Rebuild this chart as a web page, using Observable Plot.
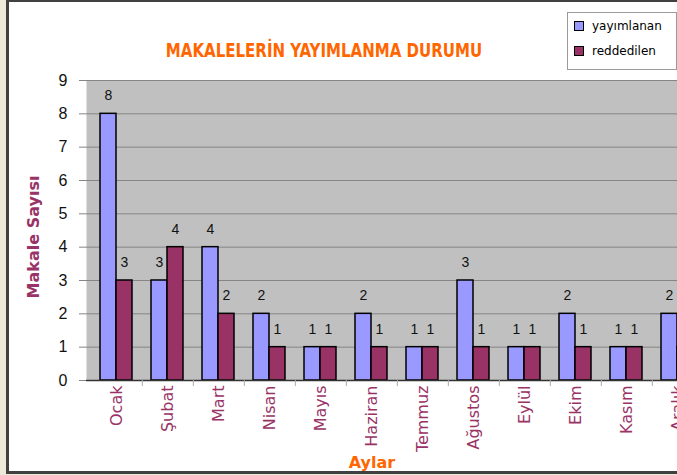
<!DOCTYPE html>
<html>
<head>
<meta charset="utf-8">
<script src="https://cdn.jsdelivr.net/npm/d3@7"></script>
<script src="https://cdn.jsdelivr.net/npm/@observablehq/plot@0.6"></script>
<style>
  html, body { margin: 0; padding: 0; }
  body { width: 677px; height: 475px; overflow: hidden; position: relative; background: #ECE9D8; font-family: "DejaVu Sans", sans-serif; }
  #frame { position: absolute; left: 6px; top: 0; width: 720px; height: 469px; background: #fff;
           border-left: 3px solid #404040; border-top: 2px solid #404040; border-bottom: 3px solid #404040; }
  #chart { position: absolute; left: 0; top: 0; width: 720px; }
  #chart svg { max-width: none !important; }
  #title { position: absolute; left: 0; width: 648px; top: 38px; text-align: center; color: #FF6600;
           font-family: "Liberation Sans Narrow", "DejaVu Sans Condensed", sans-serif; font-weight: bold; font-size: 20px;
           font-stretch: condensed; transform: scaleX(0.835); transform-origin: 324px 50%; white-space: nowrap; }
  #ytitle { position: absolute; left: 33px; top: 237px; transform: translate(-50%, -50%) rotate(-90deg);
            color: #993366; font-weight: bold; font-size: 16px; white-space: nowrap; }
  #xtitle { position: absolute; left: 372px; top: 462px; transform: translate(-50%, -50%);
            color: #FF6600; font-weight: bold; font-size: 16px; }
  #legend { position: absolute; left: 567px; top: 12px; width: 108px; height: 56px; background: #fff;
            border: 1px solid #9a9a9a; font-size: 12px; }
  .item { position: absolute; left: 6px; display: flex; align-items: center; }
  .sw { width: 8px; height: 8px; border: 1px solid #000; margin-right: 8px; }
</style>
</head>
<body>
<div id="frame"></div>
<div id="chart"></div>
<div id="title">MAKALELERİN YAYIMLANMA DURUMU</div>
<div id="ytitle">Makale Sayısı</div>
<div id="xtitle">Aylar</div>
<div id="legend">
  <div class="item" style="top:6px"><div class="sw" style="background:#9999FF"></div><span>yayımlanan</span></div>
  <div class="item" style="top:31px"><div class="sw" style="background:#993366"></div><span>reddedilen</span></div>
</div>
<script>
const months = ["Ocak", "Şubat", "Mart", "Nisan", "Mayıs", "Haziran", "Temmuz", "Ağustos", "Eylül", "Ekim", "Kasım", "Aralık"];
const yayimlanan = [8, 3, 4, 2, 1, 2, 1, 3, 1, 2, 1, 2];
const reddedilen = [3, 4, 2, 1, 1, 1, 1, 1, 1, 1, 1, 1];
const yTicks = [0, 1, 2, 3, 4, 5, 6, 7, 8, 9];

const pub = months.map((m, i) => ({month: m, value: yayimlanan[i]}));
const rej = months.map((m, i) => ({month: m, value: reddedilen[i]}));

const W = 720, H = 475, ML = 86, MR = 14;
const half = (W - ML - MR) / months.length / 2;

const chart = Plot.plot({
  width: W, height: H,
  marginLeft: ML, marginRight: MR, marginTop: 80, marginBottom: 95,
  style: {background: "transparent", overflow: "visible", maxWidth: "none"},
  x: {type: "band", domain: months, paddingInner: 0.38, paddingOuter: 0.19, axis: null, label: null},
  y: {domain: [0, 9], axis: null, label: null},
  marks: [
    Plot.frame({fill: "#C0C0C0", stroke: null}),
    Plot.ruleY(yTicks.filter(d => d > 0), {stroke: "#858585", strokeWidth: 1}),
    Plot.axisY({ticks: yTicks, label: null, tickSize: 7, tickPadding: 12, stroke: "#858585", fontSize: 16, fill: "#111", fontFamily: "Liberation Sans, Arial, sans-serif"}),
    Plot.barY(pub, {x: "month", y: "value", fill: "#9999FF", stroke: "#000", strokeWidth: 1.5, insetRight: 16}),
    Plot.barY(rej, {x: "month", y: "value", fill: "#993366", stroke: "#000", strokeWidth: 1.5, insetLeft: 16}),
    Plot.ruleY([0], {stroke: "#333", strokeWidth: 1.5}),
    Plot.axisX({label: null, tickSize: 6, tickFormat: () => "", dx: half, stroke: "#aaa"}),
    Plot.axisX({label: null, tickSize: 0, tickPadding: 5, tickRotate: -90, fontSize: 16, fill: "#993366", fontFamily: "DejaVu Sans, sans-serif"}),
    Plot.text(pub, {x: "month", y: "value", text: d => String(d.value), dx: -8, dy: -18, fontSize: 14, fill: "#111", fontFamily: "Liberation Sans, Arial, sans-serif"}),
    Plot.text(rej, {x: "month", y: "value", text: d => String(d.value), dx: 8, dy: -18, fontSize: 14, fill: "#111", fontFamily: "Liberation Sans, Arial, sans-serif"})
  ]
});
document.getElementById("chart").appendChild(chart);
</script>
</body>
</html>
